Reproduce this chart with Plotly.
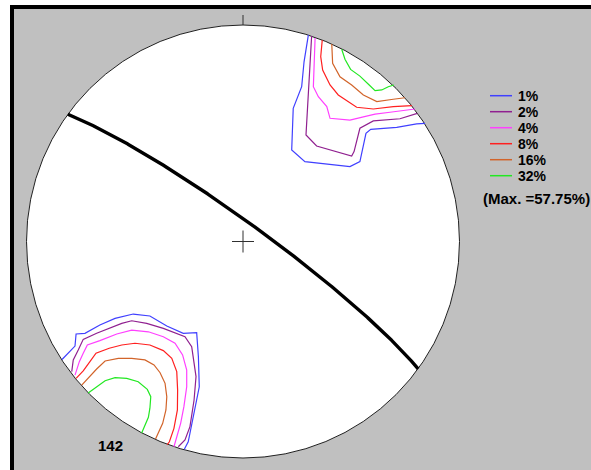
import numpy as np
import plotly.graph_objects as go

# ---------------- data (net coordinates: unit circle, x = east, y = north) ----------------
LEVELS = ["1%", "2%", "4%", "8%", "16%", "32%"]
MAX_LABEL = "(Max. =57.75%)"
N_LABEL = "142"
PLANE_DIP_DIR = 36.0   # degrees
PLANE_DIP = 83.0       # degrees

# NE cluster contours
NE_1 = [(0.302, 0.954), (0.282, 0.830), (0.271, 0.715), (0.232, 0.615), (0.225, 0.423),
        (0.286, 0.369), (0.494, 0.346), (0.540, 0.369), (0.568, 0.500), (0.590, 0.518),
        (0.710, 0.527), (0.802, 0.543), (0.841, 0.546)]
NE_2 = [(0.317, 0.949), (0.309, 0.823), (0.302, 0.685), (0.294, 0.592), (0.291, 0.492),
        (0.340, 0.441), (0.502, 0.395), (0.513, 0.415), (0.540, 0.523), (0.602, 0.557),
        (0.725, 0.567), (0.805, 0.592)]
NE_4 = [(0.333, 0.940), (0.328, 0.823), (0.325, 0.715), (0.348, 0.669), (0.387, 0.623),
        (0.402, 0.569), (0.494, 0.561), (0.556, 0.576), (0.610, 0.588), (0.679, 0.597),
        (0.794, 0.612)]
NE_8 = [(0.366, 0.930), (0.359, 0.854), (0.368, 0.792), (0.402, 0.723), (0.440, 0.677),
        (0.494, 0.641), (0.525, 0.620), (0.602, 0.612), (0.694, 0.623), (0.780, 0.628)]
NE_16 = [(0.410, 0.912), (0.414, 0.823), (0.448, 0.761), (0.502, 0.723), (0.556, 0.677),
         (0.618, 0.646), (0.694, 0.657), (0.748, 0.664)]
NE_32 = [(0.456, 0.888), (0.471, 0.842), (0.497, 0.795), (0.540, 0.764), (0.583, 0.723),
         (0.610, 0.697), (0.641, 0.700), (0.671, 0.715), (0.697, 0.723)]

# SW cluster contours
SW_1 = [(-0.836, -0.545), (-0.776, -0.483), (-0.771, -0.427), (-0.730, -0.424), (-0.661, -0.386),
        (-0.591, -0.355), (-0.507, -0.335), (-0.430, -0.344), (-0.352, -0.390), (-0.276, -0.424),
        (-0.214, -0.421), (-0.206, -0.532), (-0.202, -0.671), (-0.230, -0.809), (-0.253, -0.925),
        (-0.271, -0.960)]
SW_2 = [(-0.791, -0.601), (-0.784, -0.547), (-0.761, -0.501), (-0.738, -0.452), (-0.676, -0.424),
        (-0.614, -0.401), (-0.560, -0.378), (-0.514, -0.366), (-0.445, -0.378), (-0.368, -0.401),
        (-0.314, -0.421), (-0.268, -0.440), (-0.237, -0.486), (-0.226, -0.563), (-0.217, -0.624),
        (-0.226, -0.732), (-0.245, -0.855), (-0.268, -0.917), (-0.299, -0.948)]
SW_4 = [(-0.776, -0.617), (-0.756, -0.555), (-0.738, -0.516), (-0.719, -0.478), (-0.661, -0.458),
        (-0.583, -0.427), (-0.514, -0.409), (-0.437, -0.417), (-0.368, -0.440), (-0.314, -0.470),
        (-0.279, -0.524), (-0.260, -0.594), (-0.260, -0.671), (-0.273, -0.763), (-0.288, -0.840),
        (-0.306, -0.909), (-0.319, -0.948)]
SW_8 = [(-0.771, -0.632), (-0.738, -0.598), (-0.707, -0.555), (-0.679, -0.516), (-0.618, -0.493),
        (-0.560, -0.478), (-0.499, -0.470), (-0.430, -0.478), (-0.368, -0.504), (-0.329, -0.540),
        (-0.306, -0.601), (-0.302, -0.686), (-0.303, -0.778), (-0.319, -0.863), (-0.340, -0.925),
        (-0.350, -0.938)]
SW_16 = [(-0.745, -0.663), (-0.710, -0.624), (-0.676, -0.589), (-0.637, -0.552), (-0.576, -0.540),
         (-0.514, -0.540), (-0.453, -0.547), (-0.411, -0.570), (-0.383, -0.606), (-0.360, -0.655),
         (-0.352, -0.717), (-0.356, -0.778), (-0.371, -0.840), (-0.404, -0.912)]
SW_32 = [(-0.715, -0.700), (-0.676, -0.671), (-0.637, -0.643), (-0.591, -0.629), (-0.537, -0.632),
         (-0.484, -0.648), (-0.442, -0.683), (-0.426, -0.717), (-0.430, -0.770), (-0.437, -0.812),
         (-0.453, -0.852), (-0.468, -0.884)]

NE_CONTOURS = [NE_1, NE_2, NE_4, NE_8, NE_16, NE_32]
SW_CONTOURS = [SW_1, SW_2, SW_4, SW_8, SW_16, SW_32]

# ---------------- style ----------------
COLORS = ["#4040ff", "#902090", "#ff40ff", "#ff2020", "#d2642a", "#22e822"]
GRAY = "#c0c0c0"
W, H = 591, 470
CX, CY, R = 243.0, 241.5, 216.5   # net centre / radius in pixels


def px(x):
    return x / W


def py(y):
    return 1 - y / H


fig = go.Figure()

# contours
for lvl, col, ne, sw in zip(LEVELS, COLORS, NE_CONTOURS, SW_CONTOURS):
    for seg in (ne, sw):
        fig.add_trace(go.Scatter(x=[p[0] for p in seg], y=[p[1] for p in seg], mode="lines",
                                 line=dict(color=col, width=1.2), hoverinfo="skip", name=lvl))

# great circle (equal-area projection)
th = np.radians(np.linspace(0, 180, 361))
dd = np.radians(PLANE_DIP_DIR)
dp = np.radians(PLANE_DIP)
st = dd - np.pi / 2
sv = np.array([np.sin(st), np.cos(st), 0.0])
dv = np.array([np.cos(dp) * np.sin(dd), np.cos(dp) * np.cos(dd), np.sin(dp)])
v = np.outer(np.cos(th), sv) + np.outer(np.sin(th), dv)
plunge = np.arcsin(np.clip(v[:, 2], -1, 1))
trend = np.arctan2(v[:, 0], v[:, 1])
rr = np.sqrt(2) * np.sin((np.pi / 2 - plunge) / 2)
fig.add_trace(go.Scatter(x=rr * np.sin(trend), y=rr * np.cos(trend), mode="lines",
                         line=dict(color="black", width=3.4), hoverinfo="skip"))

# centre cross and north tick
cs = 11 / R
fig.add_trace(go.Scatter(x=[-cs, cs, None, 0, 0], y=[0, 0, None, -cs, cs], mode="lines",
                         line=dict(color="#303030", width=1), hoverinfo="skip"))
fig.add_trace(go.Scatter(x=[0, 0], y=[1, 1 + 10 / R], mode="lines",
                         line=dict(color="#303030", width=1), hoverinfo="skip"))

shapes = [
    dict(type="rect", xref="paper", yref="paper", x0=px(10), x1=1, y0=0, y1=py(5),
         fillcolor="black", line=dict(width=0), layer="below"),
    dict(type="rect", xref="paper", yref="paper", x0=px(14), x1=1, y0=0, y1=py(9),
         fillcolor=GRAY, line=dict(width=0), layer="below"),
    dict(type="circle", xref="x", yref="y", x0=-1, x1=1, y0=-1, y1=1,
         fillcolor="white", line=dict(color="#202020", width=1), layer="below"),
]
annotations = []
for i, (lvl, col) in enumerate(zip(LEVELS, COLORS)):
    yy = 95.7 + 16 * i
    shapes.append(dict(type="line", xref="paper", yref="paper", x0=px(490), x1=px(512),
                       y0=py(yy), y1=py(yy), line=dict(color=col, width=1.5)))
    annotations.append(dict(xref="paper", yref="paper", x=px(516), y=py(yy), text="<b>%s</b>" % lvl,
                            showarrow=False, xanchor="left", yanchor="middle",
                            font=dict(family="Liberation Sans, Arial", size=14, color="black")))
annotations.append(dict(xref="paper", yref="paper", x=px(481), y=py(198.5), text="<b>%s</b>" % MAX_LABEL,
                        showarrow=False, xanchor="left", yanchor="middle",
                        font=dict(family="Liberation Sans, Arial", size=15, color="black")))
annotations.append(dict(xref="paper", yref="paper", x=px(96), y=py(445), text="<b>%s</b>" % N_LABEL,
                        showarrow=False, xanchor="left", yanchor="middle",
                        font=dict(family="Liberation Sans, Arial", size=15, color="black")))

fig.update_layout(
    width=W, height=H, margin=dict(l=0, r=0, t=0, b=0, pad=0),
    paper_bgcolor="white", plot_bgcolor="rgba(0,0,0,0)", showlegend=False,
    xaxis=dict(range=[-CX / R, (W - CX) / R], visible=False, fixedrange=True),
    yaxis=dict(range=[-(H - CY) / R, CY / R], visible=False, fixedrange=True),
    shapes=shapes, annotations=annotations,
)

fig.write_html("out.html", config={"displayModeBar": False},
               post_script="document.body.style.margin='0';document.body.style.overflow='hidden';")
